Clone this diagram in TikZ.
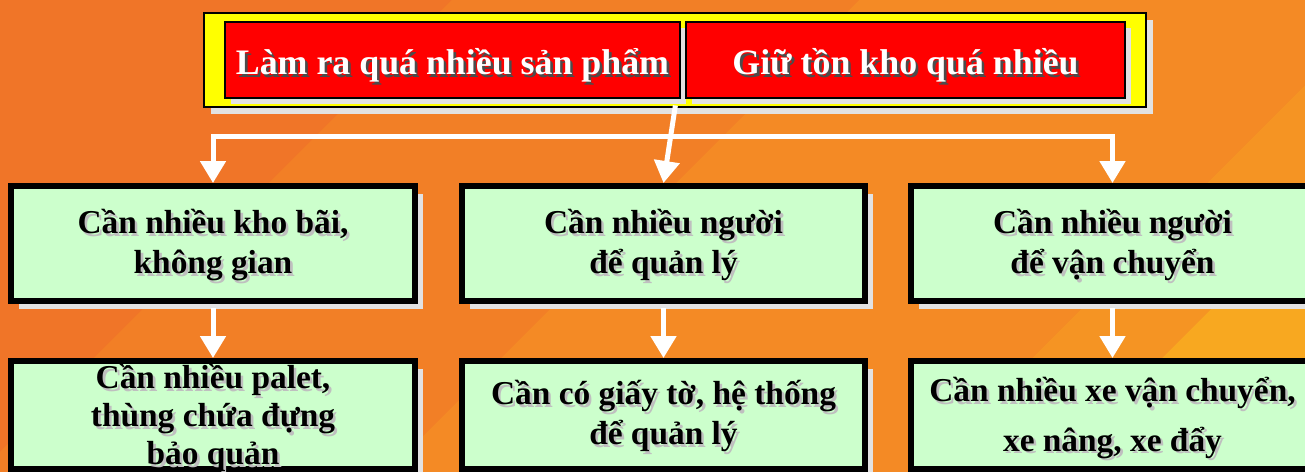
\documentclass[tikz,border=0pt]{standalone}
\usepackage{fontspec}
\setmainfont{Liberation Serif}
\usetikzlibrary{arrows.meta,shadows}

\definecolor{BgA}{RGB}{240,117,40}
\definecolor{BgB}{RGB}{242,127,38}
\definecolor{BgC}{RGB}{244,138,37}
\definecolor{BgD}{RGB}{245,148,35}
\definecolor{BgE}{RGB}{248,168,32}
\definecolor{BoxGreen}{RGB}{204,255,204}
\definecolor{BoxRed}{RGB}{255,0,0}
\definecolor{BoxYellow}{RGB}{255,255,0}
\definecolor{ShadowGray}{RGB}{226,226,226}

\newcommand{\MyShadow}[2][black!70]{%text with a small offset shadow
    \rlap{\kern1.5pt\raisebox{-1.5pt}{\color{#1}#2}}#2}
\newcommand{\BoxText}[1]{%centered lines, baseline on the last one
    \begin{tabular}[b]{@{}c@{}}#1\end{tabular}}

\begin{document}
\begin{tikzpicture}[
        %Environment Config (1 unit = 1 px of the slide)
        x=0.02cm, y=-0.02cm,
        YellowFrame/.style={%Style for the frame round the causes
            draw=black,
            fill=BoxYellow,
            line width=0.04cm,
            minimum width=18.84cm,
            minimum height=1.88cm,
            drop shadow={fill=ShadowGray, opacity=1, shadow xshift=0.14cm, shadow yshift=-0.14cm}
        },
        RedBox/.style={%Style for a cause
            draw=black,
            fill=BoxRed,
            line width=0.04cm,
            minimum height=1.52cm,
            text=white,
            text height=17pt,
            text depth=0pt,
            font=\fontsize{20.4}{24}\selectfont\bfseries,
            drop shadow={fill=ShadowGray, opacity=1, shadow xshift=0.12cm, shadow yshift=-0.12cm}
        },
        GreenBox/.style={%Style for a consequence
            draw=black,
            fill=BoxGreen,
            line width=0.12cm,
            minimum width=8.08cm,
            minimum height=2.3cm,
            inner ysep=0pt,
            text depth=0pt,
            font=\fontsize{19}{22.8}\selectfont\bfseries,
            drop shadow={fill=ShadowGray, opacity=1, shadow xshift=0.16cm, shadow yshift=-0.16cm}
        },
        MyLine/.style={%Style for the white lines
            white,
            line width=0.1cm,
            line cap=rect
        },
        MyArrow/.style={%Style for the white arrows
            MyLine,
            -{Triangle[width=0.5cm,length=0.44cm]}
        }
    ]
    \useasboundingbox (0,0) rectangle (1305,472);
    \clip (0,0) rectangle (1305,472);

    %%%%%%%%%%%%%%%%%%%%%%%%%%%%%%%%%%%%%%%%%%%%%%%%%%%%%%%%%%%%%%%%%%%%%%%%%%%%
    % BACKGROUND
    %%%%%%%%%%%%%%%%%%%%%%%%%%%%%%%%%%%%%%%%%%%%%%%%%%%%%%%%%%%%%%%%%%%%%%%%%%%%
    \fill[BgA] (0,0) rectangle (1305,472);
    \fill[BgB] (452,0) -- (859,0) -- (387,472) -- (-20,472) -- cycle;
    \fill[BgC] (859,0) -- (1305,0) -- (1305,85) -- (918,472) -- (387,472) -- cycle;
    \fill[BgD] (1305,85) -- (1305,215) -- (1048,472) -- (918,472) -- cycle;
    \fill[BgE] (1305,215) -- (1305,472) -- (1048,472) -- cycle;

    %%%%%%%%%%%%%%%%%%%%%%%%%%%%%%%%%%%%%%%%%%%%%%%%%%%%%%%%%%%%%%%%%%%%%%%%%%%%
    % CAUSES
    %%%%%%%%%%%%%%%%%%%%%%%%%%%%%%%%%%%%%%%%%%%%%%%%%%%%%%%%%%%%%%%%%%%%%%%%%%%%
    \draw (675,60) node[YellowFrame] (TOP) {};
    \draw (452.5,60) node[RedBox, minimum width=9.1cm] (C1) {\MyShadow{Làm ra quá nhiều sản phẩm}};
    \draw (905.5,60) node[RedBox, minimum width=8.78cm] (C2) {\MyShadow{Giữ tồn kho quá nhiều}};

    %%%%%%%%%%%%%%%%%%%%%%%%%%%%%%%%%%%%%%%%%%%%%%%%%%%%%%%%%%%%%%%%%%%%%%%%%%%%
    % CONSEQUENCES
    %%%%%%%%%%%%%%%%%%%%%%%%%%%%%%%%%%%%%%%%%%%%%%%%%%%%%%%%%%%%%%%%%%%%%%%%%%%%
    % first row
    \draw (213,243.5) node[GreenBox, text height=34.6pt] (N1) {\BoxText{\MyShadow[black!25]{Cần nhiều kho bãi,}\\\MyShadow[black!25]{không gian}}};
    \draw (663.5,243.5) node[GreenBox, text height=34.6pt] (N2) {\BoxText{\MyShadow[black!25]{Cần nhiều người}\\\MyShadow[black!25]{để quản lý}}};
    \draw (1112.5,243.5) node[GreenBox, text height=34.6pt] (N3) {\BoxText{\MyShadow[black!25]{Cần nhiều người}\\\MyShadow[black!25]{để vận chuyển}}};

    % second row
    \draw (213,415) node[GreenBox, minimum height=2.16cm, text height=56.9pt] (M1) {\BoxText{\MyShadow[black!25]{Cần nhiều palet,}\\[-1pt]\MyShadow[black!25]{thùng chứa đựng}\\[-1pt]\MyShadow[black!25]{bảo quản}}};
    \draw (663.5,415) node[GreenBox, minimum height=2.16cm, text height=34.1pt] (M2) {\BoxText{\MyShadow[black!25]{Cần có giấy tờ, hệ thống}\\\MyShadow[black!25]{để quản lý}}};
    \draw (1112.5,415) node[GreenBox, minimum height=2.16cm, text height=41pt] (M3) {\BoxText{\MyShadow[black!25]{Cần nhiều xe vận chuyển,}\\[0.18cm]\MyShadow[black!25]{xe nâng, xe đẩy}}};

    %%%%%%%%%%%%%%%%%%%%%%%%%%%%%%%%%%%%%%%%%%%%%%%%%%%%%%%%%%%%%%%%%%%%%%%%%%%%
    % ARROWS
    %%%%%%%%%%%%%%%%%%%%%%%%%%%%%%%%%%%%%%%%%%%%%%%%%%%%%%%%%%%%%%%%%%%%%%%%%%%%
    \coordinate (BUS) at (0,137);
    \coordinate (BUSL) at (N1.north |- BUS);
    \coordinate (BUSR) at (N3.north |- BUS);
    \draw[MyArrow] (BUSR) -- (BUSL) -- (N1);
    \draw[MyArrow] (BUSR) -- (N3);
    \draw[MyArrow] (TOP.south) -- (N2.north);

    \draw[MyArrow, shorten <=0.14cm] (N1) -- (M1);
    \draw[MyArrow, shorten <=0.14cm] (N2) -- (M2);
    \draw[MyArrow, shorten <=0.14cm] (N3) -- (M3);
\end{tikzpicture}
\end{document}
